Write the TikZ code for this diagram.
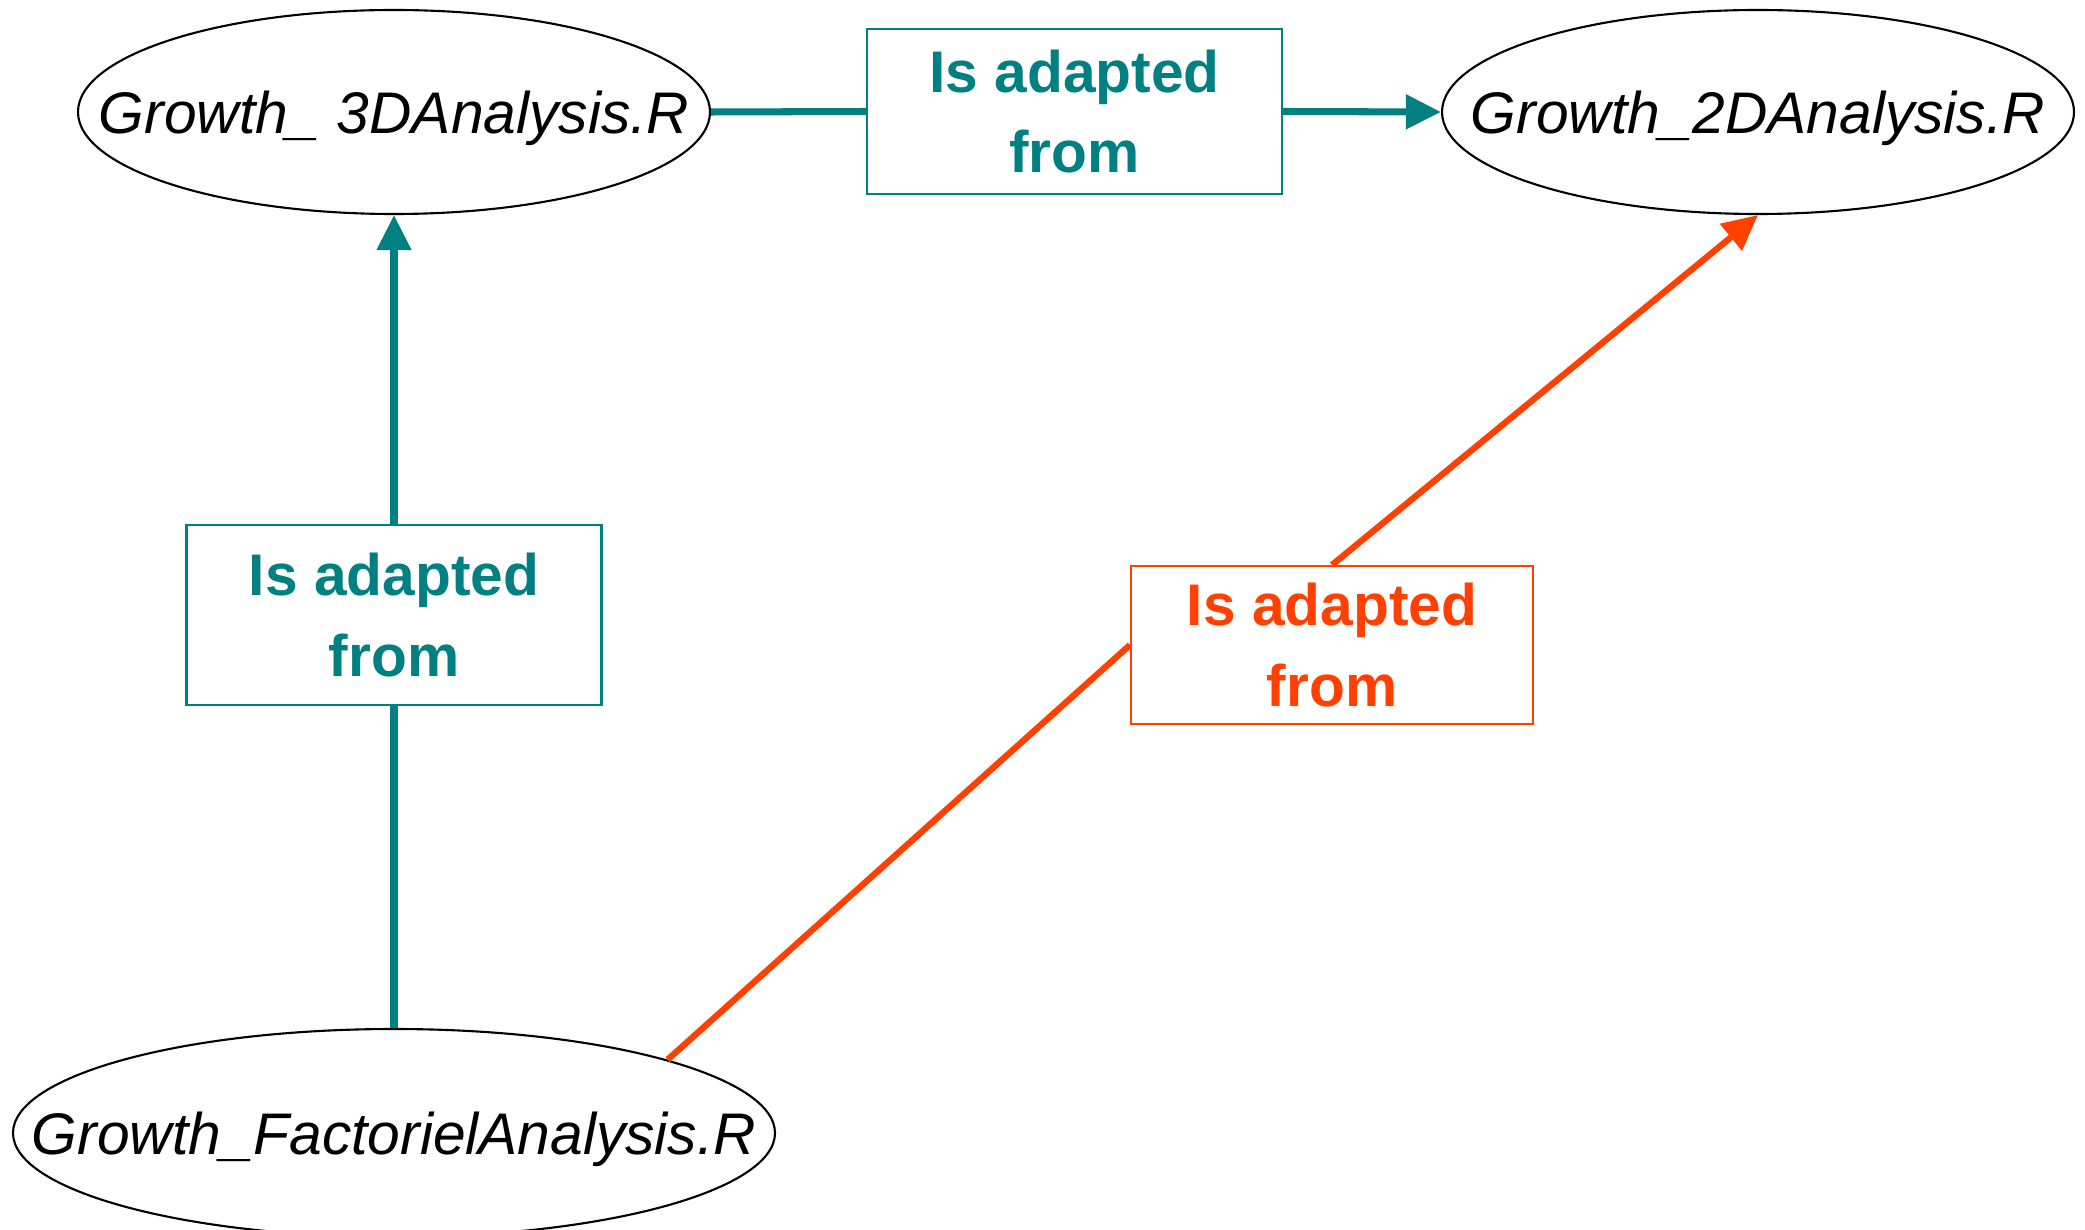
\documentclass[tikz,border=0pt]{standalone}
\usepackage{fontspec}
\setmainfont{Liberation Sans}
\usetikzlibrary{shapes.geometric,arrows.meta}

\definecolor{linkteal}{RGB}{0,128,128}
\definecolor{linkred}{RGB}{255,64,0}

% file name set in a zero-width box, so the ellipse keeps its own size
\newcommand{\rname}[1]{\makebox[0pt]{#1}}

\begin{document}
\begin{tikzpicture}[
    font=\fontsize{16.7}{22.8}\selectfont,
    rfile/.style={ellipse, draw, line width=0.6pt, inner sep=0pt, text height=12pt, text depth=0pt, font=\fontsize{16.7}{22.8}\selectfont\itshape},
    adapt/.style={rectangle, draw, line width=0.6pt, align=center, inner sep=0pt, font=\fontsize{16.7}{22.8}\selectfont\bfseries},
    link/.style={line width=2pt},
    >={Triangle[length=10pt,width=9.5pt]}
]
    \useasboundingbox (0,0) rectangle (20.85,12.29);

    \node[rfile, minimum width=6.32cm, minimum height=2.04cm] (g3d) at (3.94,11.17) {\rname{Growth\_ 3DAnalysis.R}};
    \node[rfile, minimum width=6.32cm, minimum height=2.04cm] (g2d) at (17.58,11.17) {\rname{Growth\_2DAnalysis.R}};
    \node[rfile, minimum width=7.62cm, minimum height=2.08cm] (gfact) at (3.94,0.96) {\rname{Growth\_FactorielAnalysis.R}};

    \node[adapt, linkteal, minimum width=4.15cm, minimum height=1.65cm] (adtop) at (10.745,11.175) {Is adapted\\from};
    \node[adapt, linkteal, minimum width=4.15cm, minimum height=1.80cm] (adleft) at (3.94,6.14) {Is adapted\\from};
    \node[adapt, linkred, minimum width=4.02cm, minimum height=1.58cm] (adred) at (13.32,5.84) {Is adapted\\from};

    % teal links
    \draw[link, linkteal] (g3d.east) -- (adtop.west);
    \draw[link, linkteal, ->] (adtop.east) -- (g2d.west);
    \draw[link, linkteal] (gfact.north) -- (adleft.south);
    \draw[link, linkteal, ->] (adleft.north) -- (g3d.south);

    % red link
    \draw[link, linkred, line width=1.8pt] (gfact.15) -- (adred.west);
    \draw[link, linkred, line width=1.8pt, ->] (adred.north) -- (g2d.south);

\end{tikzpicture}
\end{document}
